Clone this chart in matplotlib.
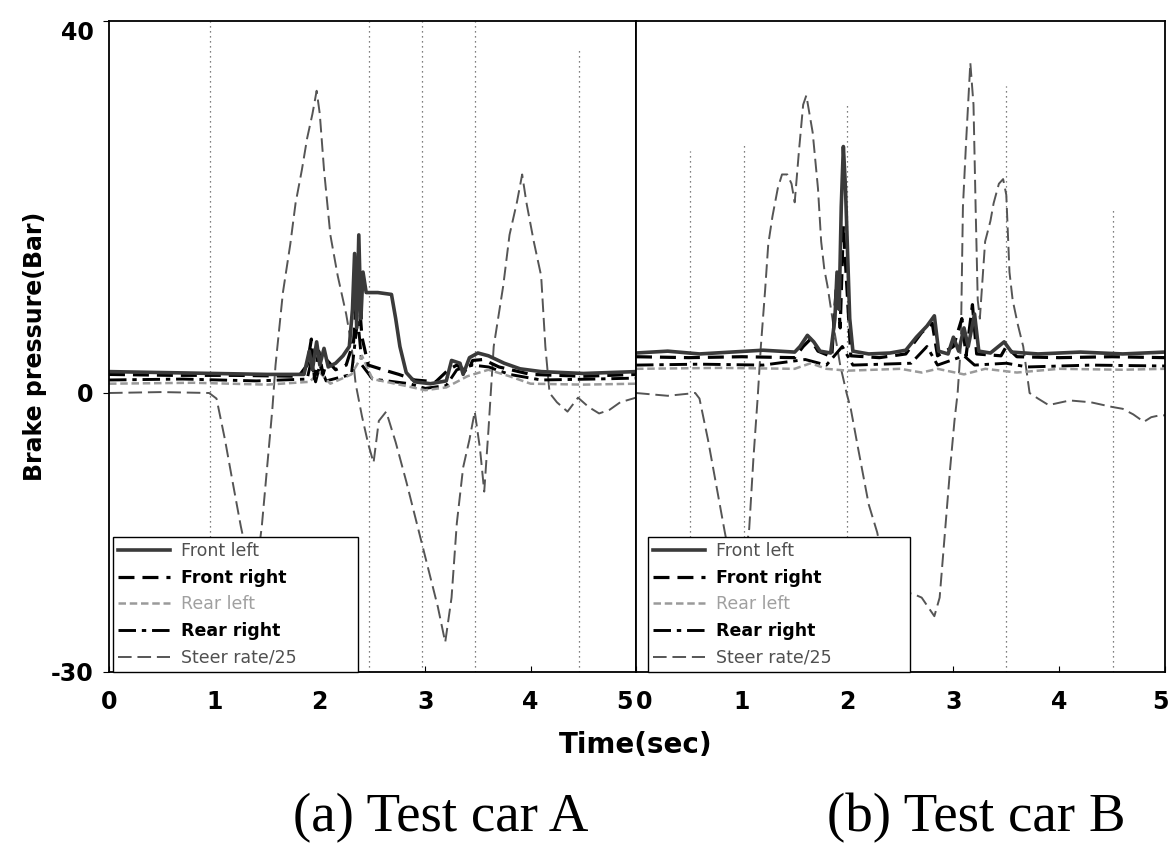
import numpy as np
import matplotlib.pyplot as plt
import matplotlib.transforms as mtransforms

# Данные: пары (время, с ; значение)
# ---------- Test car A ----------
steer_a = [(0, 0), (0.5, 0.1), (0.95, 0), (1.02, -0.6), (1.1, -5), (1.18, -10), (1.25, -14.3),
           (1.31, -17.5), (1.36, -19), (1.41, -18), (1.45, -14.3), (1.5, -8), (1.55, -1.7),
           (1.58, 3), (1.65, 10.8), (1.72, 16), (1.77, 20.4), (1.83, 24), (1.88, 27.4),
           (1.93, 30), (1.97, 32.5), (2.0, 30), (2.04, 24), (2.1, 17), (2.17, 12.6), (2.25, 8.5),
           (2.3, 5.2), (2.34, 1), (2.4, -2.5), (2.46, -5.5), (2.51, -7.5), (2.56, -3), (2.63, -2),
           (2.72, -5.3), (2.82, -9.5), (2.92, -14), (3.02, -18.5), (3.12, -23), (3.19, -26.8),
           (3.25, -22), (3.3, -14), (3.36, -8), (3.42, -5), (3.47, -2), (3.52, -6), (3.56, -10.6),
           (3.6, -4), (3.65, 5), (3.74, 11.5), (3.8, 17), (3.87, 20.5), (3.92, 23.5), (3.96, 20.5),
           (4.03, 16.3), (4.1, 12.6), (4.14, 5), (4.18, 0), (4.25, -1), (4.35, -2), (4.45, -0.5),
           (4.55, -1.5), (4.65, -2.2), (4.75, -1.8), (4.85, -1), (5.0, -0.5)]

front_left_a = [(0, 2.3), (0.5, 2.2), (1.0, 2.1), (1.5, 2.0), (1.85, 2.0), (1.9, 4.5), (1.93, 2.5),
                (1.97, 5.5), (2.0, 3), (2.04, 4.8), (2.08, 2.8), (2.15, 3.2), (2.22, 4), (2.28, 5),
                (2.31, 9), (2.33, 15), (2.35, 7), (2.37, 17), (2.39, 8), (2.41, 13), (2.44, 10.8),
                (2.55, 10.8), (2.68, 10.6), (2.72, 8), (2.76, 5), (2.82, 2.2), (2.9, 1.2),
                (3.05, 1.0), (3.2, 1.3), (3.25, 3.5), (3.33, 3.2), (3.36, 2.0), (3.42, 3.8),
                (3.5, 4.3), (3.6, 4.0), (3.75, 3.2), (3.9, 2.6), (4.1, 2.3), (4.5, 2.1), (5.0, 2.3)]

front_right_a = [(0, 2.0), (0.6, 1.9), (1.2, 1.9), (1.8, 1.8), (1.88, 3), (1.92, 5.8), (1.95, 1.5),
                 (1.99, 4.5), (2.03, 2), (2.07, 3.5), (2.15, 2.5), (2.25, 3), (2.32, 5.5),
                 (2.36, 12), (2.4, 6), (2.46, 3), (2.6, 2.5), (2.75, 2.0), (2.9, 1.4), (3.1, 1.2),
                 (3.22, 2.5), (3.3, 3.0), (3.4, 2.2), (3.45, 3.5), (3.55, 3.6), (3.7, 2.8),
                 (4.0, 2.0), (4.5, 1.8), (5.0, 2.0)]

rear_left_a = [(0, 1.0), (0.8, 1.1), (1.5, 0.9), (1.9, 1.2), (2.0, 2.2), (2.1, 1.0), (2.3, 2.0),
               (2.4, 4.0), (2.5, 1.5), (2.8, 0.8), (3.0, 0.3), (3.2, 0.6), (3.4, 1.8), (3.6, 2.5),
               (3.8, 1.8), (4.0, 1.0), (4.5, 0.9), (5.0, 1.0)]

rear_right_a = [(0, 1.4), (0.7, 1.5), (1.4, 1.3), (1.88, 1.5), (1.92, 3.5), (1.96, 1.2), (2.0, 3.0),
                (2.06, 1.3), (2.3, 2.0), (2.36, 8), (2.4, 3), (2.5, 1.5), (2.85, 1.0), (3.0, 0.5),
                (3.2, 0.8), (3.3, 2.5), (3.45, 3.0), (3.6, 2.8), (3.8, 2.0), (4.1, 1.4),
                (4.6, 1.5), (5.0, 1.6)]

# ---------- Test car B ----------
steer_b = [(0, 0), (0.3, -0.3), (0.56, 0), (0.6, -0.6), (0.68, -5), (0.76, -10), (0.84, -15),
           (0.9, -18.5), (0.96, -20.5), (1.01, -19.5), (1.07, -14.6), (1.11, -7), (1.15, -0.5),
           (1.18, 5), (1.22, 11), (1.25, 16), (1.29, 19), (1.34, 22), (1.38, 23.5), (1.43, 23.5),
           (1.47, 22.5), (1.5, 20.5), (1.54, 26), (1.58, 31), (1.61, 32), (1.67, 28), (1.72, 22),
           (1.75, 16.3), (1.78, 13.3), (1.81, 11.5), (1.87, 7), (1.93, 3), (1.99, 0), (2.03, -1.7),
           (2.1, -6), (2.2, -12), (2.28, -15), (2.35, -19), (2.42, -23), (2.5, -22.5),
           (2.58, -21.5), (2.64, -21.7), (2.7, -22), (2.76, -23), (2.82, -24), (2.87, -22),
           (2.92, -15), (2.97, -8), (3.01, -3), (3.04, 0), (3.07, 5), (3.09, 20), (3.12, 27),
           (3.16, 35.5), (3.19, 31), (3.21, 20), (3.23, 10), (3.25, 8), (3.28, 13), (3.3, 16.3),
           (3.35, 18.5), (3.38, 20.4), (3.43, 22.5), (3.47, 23), (3.5, 21.3), (3.53, 13),
           (3.56, 10), (3.61, 7.3), (3.66, 5), (3.72, 0), (3.8, -0.6), (3.9, -1.3), (4.1, -0.8),
           (4.3, -1.0), (4.5, -1.5), (4.6, -1.7), (4.7, -2.3), (4.8, -3.1), (4.87, -2.6),
           (4.95, -2.4), (5.0, -2.4)]

front_left_b = [(0, 4.3), (0.3, 4.5), (0.6, 4.2), (0.9, 4.4), (1.2, 4.6), (1.5, 4.4), (1.55, 5),
                (1.62, 6.2), (1.68, 5.5), (1.74, 4.5), (1.84, 4.3), (1.88, 8), (1.9, 13), (1.92, 9),
                (1.94, 20), (1.96, 26.5), (1.98, 22), (2.0, 15), (2.02, 8), (2.05, 4.5), (2.2, 4.2),
                (2.4, 4.3), (2.55, 4.6), (2.65, 6), (2.75, 7.2), (2.82, 8.3), (2.86, 4.5),
                (2.95, 4.2), (3.0, 6), (3.05, 4.5), (3.1, 7), (3.14, 5), (3.2, 8.5), (3.24, 4.5),
                (3.35, 4.3), (3.48, 5.5), (3.55, 4.4), (3.8, 4.2), (4.2, 4.4), (4.6, 4.2), (5.0, 4.4)]

front_right_b = [(0, 3.9), (0.5, 3.8), (1.0, 3.9), (1.5, 3.8), (1.58, 5), (1.65, 5.8), (1.72, 4.5),
                 (1.85, 3.9), (1.9, 12.6), (1.93, 7), (1.96, 18), (1.99, 12), (2.03, 4), (2.3, 3.8),
                 (2.55, 4.2), (2.7, 6.5), (2.8, 7.5), (2.85, 4), (3.0, 5), (3.08, 8), (3.12, 4),
                 (3.18, 9.5), (3.22, 4.2), (3.45, 4.0), (3.5, 5), (3.6, 3.9), (4.0, 3.8),
                 (4.5, 3.9), (5.0, 3.8)]

rear_left_b = [(0, 2.6), (0.8, 2.7), (1.5, 2.6), (1.65, 3.2), (1.8, 2.6), (2.0, 2.4), (2.5, 2.6),
               (2.7, 2.2), (2.85, 2.6), (3.1, 2.0), (3.3, 2.6), (3.6, 2.2), (4.0, 2.6), (4.6, 2.5),
               (5.0, 2.6)]

rear_right_b = [(0, 3.0), (0.6, 3.1), (1.2, 3.0), (1.6, 3.6), (1.8, 3.0), (1.95, 5), (2.05, 3.0),
                (2.6, 3.2), (2.75, 5), (2.85, 3), (3.1, 4), (3.2, 3), (3.5, 3.2), (3.7, 2.8),
                (4.3, 3.0), (5.0, 2.9)]

# вертикальные пунктирные отметки (время, верхний край)
marks_a_t = [0.96, 2.47, 2.97, 3.47, 4.46]
marks_a_top = [40, 40, 40, 40, 37]
marks_b_t = [0.51, 1.02, 1.99, 3.5, 4.51]
marks_b_top = [26, 27, 31, 33, 20]

labels = ['Front left', 'Front right', 'Rear left', 'Rear right', 'Steer rate/25']

styles = {
    'Front left': dict(color='#3a3a3a', lw=2.6, ls='-'),
    'Front right': dict(color='black', lw=2.3, ls=(0, (5, 2.5))),
    'Rear left': dict(color='#9a9a9a', lw=1.8, ls=(0, (3, 1.5))),
    'Rear right': dict(color='black', lw=2.1, ls=(0, (6, 2, 1.5, 2))),
    'Steer rate/25': dict(color='#555555', lw=1.4, ls=(0, (7, 3))),
}
text_style = {
    'Front left': ('#505050', 'normal'),
    'Front right': ('black', 'bold'),
    'Rear left': ('#a0a0a0', 'normal'),
    'Rear right': ('black', 'bold'),
    'Steer rate/25': ('#505050', 'normal'),
}


def unzip(pairs):
    arr = np.array(pairs, dtype=float)
    return arr[:, 0], arr[:, 1]


fig = plt.figure(figsize=(11.69, 8.5), dpi=100)
W, H = 1169, 850
ax_a = fig.add_axes([109 / W, 1 - 672 / H, 527 / W, 651 / H])
ax_b = fig.add_axes([636 / W, 1 - 672 / H, 529 / W, 651 / H])

panels = [
    (ax_a, [front_left_a, front_right_a, rear_left_a, rear_right_a, steer_a],
     marks_a_t, marks_a_top, 113, 358),
    (ax_b, [front_left_b, front_right_b, rear_left_b, rear_right_b, steer_b],
     marks_b_t, marks_b_top, 648, 910),
]

for ax, series, mt, mtop, lx0, lx1 in panels:
    ax.vlines(mt, -30, mtop, colors='#555555', linestyles=(0, (1, 3)), lw=0.9, zorder=1)
    handles = {}
    # рисуем руль первым, потом задние, потом передние
    for name, pairs in zip(labels[::-1], series[::-1]):
        t, v = unzip(pairs)
        st = styles[name]
        ln, = ax.plot(t, v, color=st['color'], lw=st['lw'], linestyle=st['ls'], zorder=2)
        handles[name] = ln
    ax.set_xlim(0, 5)
    ax.set_ylim(-30, 40)
    for sp in ax.spines.values():
        sp.set_linewidth(1.3)
        sp.set_color('black')
    ax_x0 = ax.get_position().x0 * W
    ax_w = ax.get_position().width * W
    leg = ax.legend([handles[n] for n in labels], labels, loc='lower left',
                    bbox_to_anchor=((lx0 - ax_x0) / ax_w, 0, (lx1 - lx0) / ax_w, 0.21),
                    mode='expand', borderaxespad=0, fancybox=False, framealpha=1,
                    edgecolor='black', fontsize=12.5, handlelength=3.0,
                    labelspacing=0.5, borderpad=0.3, handletextpad=0.6)
    leg.get_frame().set_linewidth(1.0)
    leg.set_zorder(5)
    for txt, n in zip(leg.get_texts(), labels):
        txt.set_color(text_style[n][0])
        txt.set_fontweight(text_style[n][1])
    ax.set_xticks([0, 1, 2, 3, 4, 5])
    ax.tick_params(axis='x', direction='in', length=4, pad=13, labelsize=17)
    for lab in ax.get_xticklabels():
        lab.set_fontweight('bold')

ax_a.set_yticks([-30, 0, 40])
ax_a.set_yticklabels(['-30', '0', '40'], fontsize=17, fontweight='bold')
ax_a.tick_params(axis='y', direction='out', length=4, pad=7)
ax_a.get_yticklabels()[2].set_va('top')
ax_b.set_yticks([])


def shift(label, dx):
    label.set_transform(label.get_transform() +
                        mtransforms.ScaledTranslation(dx / 100, 0, fig.dpi_scale_trans))


shift(ax_a.get_xticklabels()[5], -12)
shift(ax_b.get_xticklabels()[0], 8)
shift(ax_b.get_xticklabels()[5], -5)

fig.text(35 / W, 1 - 346 / H, 'Brake pressure(Bar)', rotation=90, ha='center', va='center',
         fontsize=17, fontweight='bold')
fig.text(636 / W, 1 - 745 / H, 'Time(sec)', ha='center', va='center',
         fontsize=20, fontweight='bold')
fig.text(441 / W, 1 - 818 / H, '(a) Test car A', ha='center', va='center',
         family='Liberation Serif', fontsize=39.5)
fig.text(976 / W, 1 - 818 / H, '(b) Test car B', ha='center', va='center',
         family='Liberation Serif', fontsize=39.5)

fig.savefig('out.png', dpi=100)
